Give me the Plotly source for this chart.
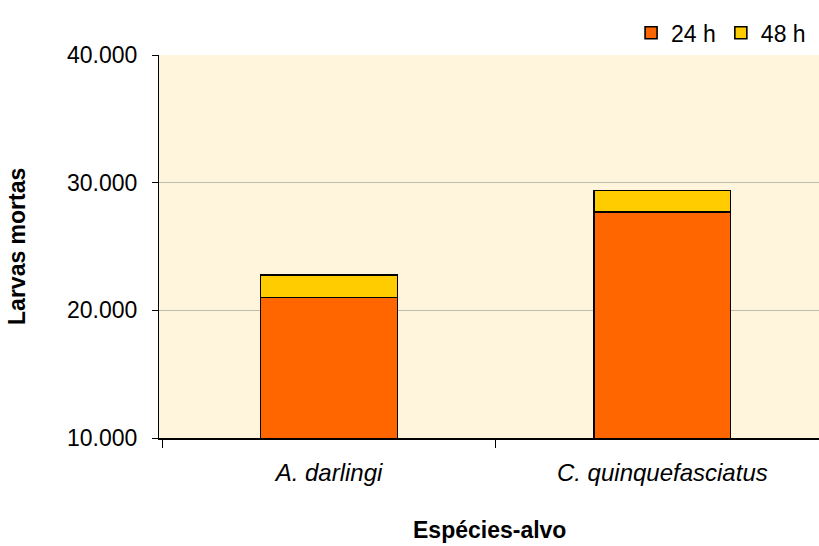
import plotly.graph_objects as go

# Larvas mortas por espécie-alvo, acumuladas em 24 h e 48 h
especies = ["A. darlingi", "C. quinquefasciatus"]
mortas_24h = [21000, 27700]
acrescimo_48h = [1750, 1700]
y_ticks = [10000, 20000, 30000, 40000]

x_pos = list(range(len(especies)))
tick_text = [f"<i>{e}</i>" for e in especies]

fig = go.Figure()
fig.add_trace(go.Bar(
    x=x_pos, y=mortas_24h, name="24 h", width=0.41,
    marker=dict(color="#FF6600", line=dict(color="#000000", width=1.6)),
))
fig.add_trace(go.Bar(
    x=x_pos, y=acrescimo_48h, name="48 h", width=0.41,
    marker=dict(color="#FFCC00", line=dict(color="#000000", width=1.6)),
))

font = "Liberation Sans, Arial, sans-serif"
fig.update_layout(
    width=819, height=546,
    barmode="stack",
    separators=",.",
    paper_bgcolor="#FFFFFF",
    plot_bgcolor="#FEF5DC",
    margin=dict(l=159, r=0, t=55, b=108),
    font=dict(family=font, size=23, color="#000000"),
    showlegend=True,
    legend=dict(
        orientation="h", traceorder="normal",
        x=0.988, xanchor="right", y=1.058, yanchor="middle",
        font=dict(size=23), bgcolor="rgba(0,0,0,0)",
        itemwidth=30, tracegroupgap=0,
    ),
    xaxis=dict(
        range=[-0.51, 1.47], tickvals=x_pos, ticktext=tick_text,
        ticks="", showgrid=False, zeroline=False,
        showline=True, linecolor="#000000", linewidth=1.5,
        tickfont=dict(size=24), ticklabelstandoff=12,
        minor=dict(tick0=-0.5, dtick=1, ticks="outside", ticklen=8,
                   tickcolor="#000000", tickwidth=1, showgrid=False),
    ),
    yaxis=dict(
        range=[10000, 40000], tickvals=y_ticks, tickformat=",d",
        ticks="outside", ticklen=6, tickcolor="#000000",
        showgrid=True, gridcolor="#BEBBB4", gridwidth=1,
        showline=True, linecolor="#000000", linewidth=1.2,
        zeroline=False, tickfont=dict(size=23), ticklabelstandoff=10,
    ),
    annotations=[
        dict(text="<b>Larvas mortas</b>", xref="paper", yref="paper",
             x=-0.216, y=0.5, textangle=-90, showarrow=False,
             font=dict(size=23), xanchor="center", yanchor="middle"),
        dict(text="<b>Espécies-alvo</b>", xref="paper", yref="paper",
             x=0.5015, y=-0.279, showarrow=False,
             font=dict(size=23), xanchor="center", yanchor="bottom"),
    ],
)

fig.write_html("out.html")
